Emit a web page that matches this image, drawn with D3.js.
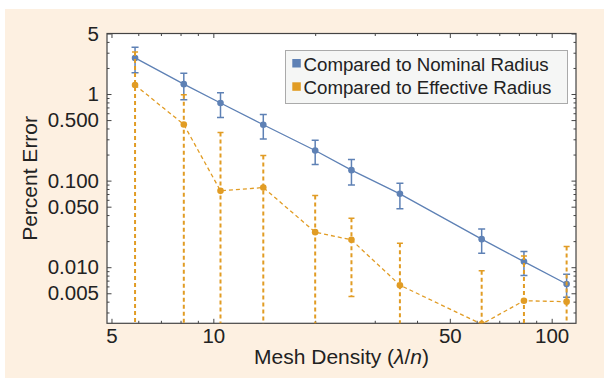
<!DOCTYPE html>
<html>
<head>
<meta charset="utf-8">
<script src="https://cdn.jsdelivr.net/npm/d3@7"></script>
<style>
  html, body { margin: 0; padding: 0; background: #fff; }
  svg { display: block; font-family: "Liberation Sans", Arial, sans-serif; }
</style>
</head>
<body>
<div id="chart"></div>
<script>
// mesh density (lambda / n) for each run
const meshDensity = [5.87, 8.18, 10.5, 14.05, 20.0, 25.6, 35.6, 62.1, 82.8, 110.7];

// percent error vs nominal radius, with symmetric error
const nominalError = [2.61, 1.30, 0.787, 0.442, 0.223, 0.132, 0.0704, 0.0211, 0.0116, 0.0064];
const nominalSpread = [0.85, 0.44, 0.25, 0.14, 0.07, 0.043, 0.023, 0.0066, 0.0036, 0.0019];

// percent error vs effective radius
const effectiveError = [1.27, 0.445, 0.0762, 0.0832, 0.0254, 0.0207, 0.0062, 0.0022, 0.0041, 0.0040];
const effectiveSpread = [1.78, 0.535, 0.284, 0.112, 0.042, 0.0161, 0.0127, 0.0069, 0.0094, 0.0133];

const seriesNames = ['Compared to Nominal Radius', 'Compared to Effective Radius'];
const seriesColors = ['#5E81B5', '#E19C24'];

const xDomain = [4.85, 118];
const yDomain = [0.00225, 5];
const xMajor = [5, 10, 50, 100];
const xMajorLabels = ['5', '10', '50', '100'];
const xMinor = [6, 7, 8, 9, 20, 30, 40, 60, 70, 80, 90];
const yMajor = [0.005, 0.01, 0.05, 0.1, 0.5, 1, 5];
const yMajorLabels = ['0.005', '0.010', '0.050', '0.100', '0.500', '1', '5'];
const yMinor = [0.003, 0.004, 0.006, 0.007, 0.008, 0.009, 0.02, 0.03, 0.04,
  0.06, 0.07, 0.08, 0.09, 0.2, 0.3, 0.4, 0.6, 0.7, 0.8, 0.9, 2, 3, 4];

const W = 604, H = 379;
const plot = { left: 107, right: 576, top: 33.5, bottom: 323.3 };

const svg = d3.select('#chart').append('svg')
  .attr('width', W)
  .attr('height', H);

// beige panel
svg.append('rect')
  .attr('x', 5).attr('y', 9)
  .attr('width', W - 5).attr('height', 369)
  .attr('fill', '#FDF0E1');

svg.append('rect')
  .attr('x', plot.left).attr('y', plot.top)
  .attr('width', plot.right - plot.left).attr('height', plot.bottom - plot.top)
  .attr('fill', '#fff');

const x = d3.scaleLog().domain(xDomain).range([plot.left, plot.right]);
const y = d3.scaleLog().domain(yDomain).range([plot.bottom, plot.top]);

svg.append('clipPath').attr('id', 'clip')
  .append('rect')
  .attr('x', plot.left).attr('y', plot.top)
  .attr('width', plot.right - plot.left).attr('height', plot.bottom - plot.top);

const tickColor = '#444';
const textColor = '#222';

function styleAxis(g, fontSize) {
  g.select('.domain').remove();
  g.selectAll('.tick line').attr('stroke', tickColor).attr('stroke-width', 1);
  g.selectAll('.tick text').attr('fill', textColor);
  g.attr('font-size', fontSize).attr('font-family', '"Liberation Sans", Arial, sans-serif');
}

// left axis
svg.append('g')
  .attr('transform', `translate(${plot.left},0)`)
  .call(d3.axisLeft(y).tickValues(yMajor).tickSize(-4.5).tickSizeOuter(0)
    .tickPadding(8).tickFormat((d, i) => yMajorLabels[i]))
  .call(g => styleAxis(g, 20.5));
svg.append('g')
  .attr('transform', `translate(${plot.left},0)`)
  .call(d3.axisLeft(y).tickValues(yMinor).tickSize(-2.5).tickFormat(''))
  .call(g => styleAxis(g, 10));

// right axis (ticks only)
svg.append('g')
  .attr('transform', `translate(${plot.right},0)`)
  .call(d3.axisRight(y).tickValues(yMajor).tickSize(-4.5).tickFormat(''))
  .call(g => styleAxis(g, 10));
svg.append('g')
  .attr('transform', `translate(${plot.right},0)`)
  .call(d3.axisRight(y).tickValues(yMinor).tickSize(-2.5).tickFormat(''))
  .call(g => styleAxis(g, 10));

// bottom axis
svg.append('g')
  .attr('transform', `translate(0,${plot.bottom})`)
  .call(d3.axisBottom(x).tickValues(xMajor).tickSize(-4.5).tickSizeOuter(0)
    .tickPadding(5).tickFormat((d, i) => xMajorLabels[i]))
  .call(g => styleAxis(g, 20.5));
svg.append('g')
  .attr('transform', `translate(0,${plot.bottom})`)
  .call(d3.axisBottom(x).tickValues(xMinor).tickSize(-2.5).tickFormat(''))
  .call(g => styleAxis(g, 10));

// top axis (ticks only)
svg.append('g')
  .attr('transform', `translate(0,${plot.top})`)
  .call(d3.axisTop(x).tickValues(xMajor).tickSize(-4.5).tickFormat(''))
  .call(g => styleAxis(g, 10));
svg.append('g')
  .attr('transform', `translate(0,${plot.top})`)
  .call(d3.axisTop(x).tickValues(xMinor).tickSize(-2.5).tickFormat(''))
  .call(g => styleAxis(g, 10));

// frame
svg.append('rect')
  .attr('x', plot.left).attr('y', plot.top)
  .attr('width', plot.right - plot.left).attr('height', plot.bottom - plot.top)
  .attr('fill', 'none')
  .attr('stroke', tickColor)
  .attr('stroke-width', 1.2);

const layer = svg.append('g').attr('clip-path', 'url(#clip)');

const nominal = meshDensity.map((m, i) => ({ x: m, y: nominalError[i], e: nominalSpread[i] }));
const effective = meshDensity.map((m, i) => ({ x: m, y: effectiveError[i], e: effectiveSpread[i] }));

const yLow = v => v > 0 ? y(v) : plot.bottom + 10;

function drawSeries(data, color, dashed) {
  const g = layer.append('g');
  const capW = dashed ? 3 : 3.5;
  const dash = dashed ? '4,3' : null;

  // error bars
  data.forEach(d => {
    const lo = d.y - d.e, hi = d.y + d.e;
    const cx = x(d.x);
    g.append('line')
      .attr('x1', cx).attr('x2', cx)
      .attr('y1', y(hi)).attr('y2', yLow(lo))
      .attr('stroke', color)
      .attr('stroke-width', dashed ? 2 : 1.5)
      .attr('stroke-dasharray', dash);
    g.append('line')
      .attr('x1', cx - capW).attr('x2', cx + capW)
      .attr('y1', y(hi)).attr('y2', y(hi))
      .attr('stroke', color).attr('stroke-width', 1.5);
    if (lo > 0) {
      g.append('line')
        .attr('x1', cx - capW).attr('x2', cx + capW)
        .attr('y1', y(lo)).attr('y2', y(lo))
        .attr('stroke', color).attr('stroke-width', 1.5);
    }
  });

  g.append('path')
    .datum(data)
    .attr('fill', 'none')
    .attr('stroke', color)
    .attr('stroke-width', 1.3)
    .attr('stroke-dasharray', dash)
    .attr('d', d3.line().x(d => x(d.x)).y(d => y(d.y)));

  g.selectAll('circle')
    .data(data)
    .enter()
    .append('circle')
    .attr('cx', d => x(d.x))
    .attr('cy', d => y(d.y))
    .attr('r', 3.3)
    .attr('fill', color);
}

drawSeries(nominal, seriesColors[0], false);
drawSeries(effective, seriesColors[1], true);

// legend
const legend = svg.append('g');
legend.append('rect')
  .attr('x', 285.5).attr('y', 50.5)
  .attr('width', 282).attr('height', 53)
  .attr('fill', '#F5F6F5')
  .attr('stroke', '#AAAAAA')
  .attr('stroke-width', 1);

seriesNames.forEach((name, i) => {
  const rowY = 71 + i * 23.3;
  legend.append('rect')
    .attr('x', 292.3).attr('y', rowY - 12)
    .attr('width', 8.5).attr('height', 8.5)
    .attr('fill', seriesColors[i]);
  legend.append('text')
    .attr('x', 303.5).attr('y', rowY)
    .attr('font-size', 18.7)
    .attr('fill', textColor)
    .text(name);
});

// axis labels
const xLabel = svg.append('text')
  .attr('x', (plot.left + plot.right) / 2)
  .attr('y', 364.3)
  .attr('text-anchor', 'middle')
  .attr('font-size', 21)
  .attr('fill', textColor);
xLabel.append('tspan').text('Mesh Density (');
xLabel.append('tspan').attr('font-style', 'italic').text('λ');
xLabel.append('tspan').text('/');
xLabel.append('tspan').attr('font-style', 'italic').text('n');
xLabel.append('tspan').text(')');

svg.append('text')
  .attr('transform', `translate(36.7,${(plot.top + plot.bottom) / 2}) rotate(-90)`)
  .attr('text-anchor', 'middle')
  .attr('font-size', 21)
  .attr('fill', textColor)
  .text('Percent Error');
</script>
</body>
</html>
